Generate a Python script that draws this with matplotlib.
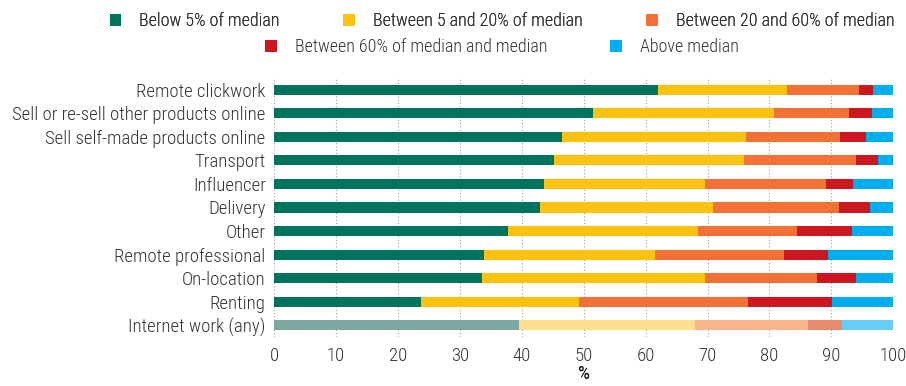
import numpy as np
import matplotlib.pyplot as plt
from matplotlib import font_manager
from matplotlib.patches import Patch

installed = {f.name for f in font_manager.fontManager.ttflist}
for fam in ["Roboto Condensed", "Asap Condensed", "Barlow Semi Condensed", "Roboto"]:
    if fam in installed:
        break
plt.rcParams['font.family'] = [fam, 'DejaVu Sans']
plt.rcParams['font.weight'] = 'light'
plt.rcParams['text.color'] = '#333333'

categories = [
    "Remote clickwork",
    "Sell or re-sell other products online",
    "Sell self-made products online",
    "Transport",
    "Influencer",
    "Delivery",
    "Other",
    "Remote professional",
    "On-location",
    "Renting",
    "Internet work (any)",
]

series = [
    "Below 5% of median",
    "Between 5 and 20% of median",
    "Between 20 and 60% of median",
    "Between 60% of median and median",
    "Above median",
]

# shares per category (%), one list per income band
below5 = [62.0, 51.5, 46.5, 45.2, 43.6, 42.9, 37.7, 33.9, 33.5, 23.7, 39.5]
b5_20 = [20.8, 29.2, 29.7, 30.7, 26.0, 28.0, 30.7, 27.6, 36.1, 25.5, 28.5]
b20_60 = [11.7, 12.1, 15.2, 18.1, 19.5, 20.3, 16.0, 20.8, 18.1, 27.3, 18.2]
b60_med = [2.2, 3.8, 4.2, 3.5, 4.4, 5.0, 8.9, 7.1, 6.3, 13.6, 5.5]
above_med = [3.3, 3.4, 4.4, 2.5, 6.5, 3.8, 6.7, 10.6, 6.0, 9.9, 8.3]

colors = ["#00735F", "#FDC20F", "#F37135", "#CD1720", "#00AEEF"]
light_colors = ["#7BA8A0", "#FEDF8E", "#F8B48B", "#E78A70", "#66CEF5"]

values = np.array([below5, b5_20, b20_60, b60_med, above_med])

fig = plt.figure(figsize=(9.06, 3.86), dpi=100)
ax = fig.add_axes([0.3025, 0.127, 0.6835, 0.671])

y = np.arange(len(categories))
left = np.zeros(len(categories))
for i, vals in enumerate(values):
    # last row (all internet work) is drawn in lighter tints
    bar_colors = [colors[i]] * (len(categories) - 1) + [light_colors[i]]
    ax.barh(y, vals, left=left, height=0.43, color=bar_colors, linewidth=0)
    left += vals

ax.set_ylim(len(categories) - 0.5, -0.5)
ax.set_xlim(0, 100)
ax.set_xticks(np.arange(0, 101, 10))
ax.set_yticks(y)
ax.set_yticklabels(categories, fontsize=13.5)
ax.tick_params(axis='x', labelsize=13.5, length=0, pad=7, colors='#333333')
ax.tick_params(axis='y', length=0, pad=6, colors='#333333')
ax.set_xlabel("%", fontsize=13.5, labelpad=0)

for s in ax.spines.values():
    s.set_visible(False)
ax.grid(axis='x', color='#999999', linestyle=(0, (1, 2)), linewidth=0.8)
ax.set_axisbelow(True)

handles = [Patch(facecolor=c, edgecolor='none') for c in colors]
leg1 = fig.legend(handles[:3], series[:3], loc='center', ncol=3,
                  bbox_to_anchor=(0.554, 0.945), frameon=False, fontsize=13,
                  handlelength=0.65, handleheight=0.65, handletextpad=1.0,
                  columnspacing=3.5)
fig.add_artist(leg1)
fig.legend(handles[3:], series[3:], loc='center', ncol=2,
           bbox_to_anchor=(0.554, 0.878), frameon=False, fontsize=13,
           handlelength=0.65, handleheight=0.65, handletextpad=1.0,
           columnspacing=3.5)

fig.savefig("out.png", dpi=100)
